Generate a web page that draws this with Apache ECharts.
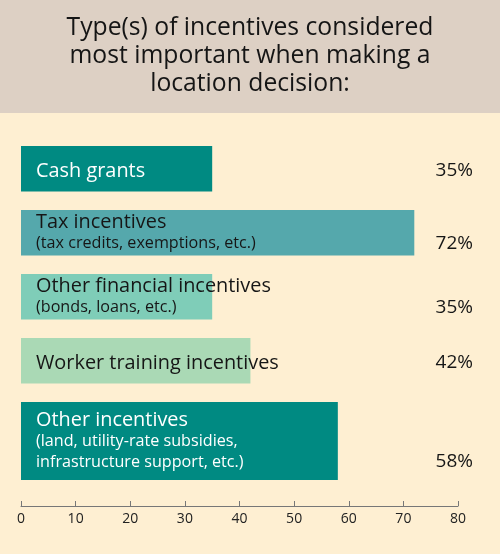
<!DOCTYPE html>
<html>
<head>
<meta charset="utf-8">
<style>
  html, body { margin: 0; padding: 0; background: #FEEFD2; }
  #chart { width: 500px; height: 554px; }
</style>
<script src="https://cdn.jsdelivr.net/npm/echarts@6/dist/echarts.min.js"></script>
</head>
<body>
<div id="chart"></div>
<script>
// ---- Data ----
const titleLines = ['Type(s) of incentives considered', 'most important when making a', 'location decision:'];
const categories = ['Cash grants', 'Tax incentives', 'Other financial incentives', 'Worker training incentives', 'Other incentives'];
const subLabels = [[], ['(tax credits, exemptions, etc.)'], ['(bonds, loans, etc.)'], [], ['(land, utility-rate subsidies,', 'infrastructure support, etc.)']];
const values = [35, 72, 35, 42, 58];
const xMin = 0, xMax = 80, xStep = 10;

// ---- Styles ----
const barColors = ['#008A82', '#55A8AC', '#7FCDB8', '#AAD9B5', '#008A82'];
const nameColors = ['#FFFFFF', '#161616', '#161616', '#161616', '#FFFFFF'];
const FONT = '"Open Sans", "Noto Sans", sans-serif';

// ---- Layout of bar rows (y units = px) ----
const GAP = 18.5;
const rows = [];
let cursor = 0;
categories.forEach((c, i) => {
  const n = 1 + subLabels[i].length;
  const h = n > 2 ? 78 : 45.5;
  rows.push([values[i], cursor, cursor + h, i]);
  cursor += h + GAP;
});
const yMax = cursor - GAP;

const chart = echarts.init(document.getElementById('chart'));

const option = {
  backgroundColor: '#FEEFD2',
  animation: false,
  graphic: [
    { type: 'rect', left: 0, top: 0, z: -10, shape: { width: 500, height: 113 }, style: { fill: '#DDD0C4' } },
    ...titleLines.map((t, i) => ({
      type: 'text', x: 250, y: 27.5 + i * 28, scaleX: 0.95, z: 10,
      style: { text: t, font: '26px ' + FONT, fill: '#151515', textAlign: 'center', textVerticalAlign: 'middle' }
    }))
  ],
  grid: { left: 21, right: 42, top: 146, height: yMax },
  xAxis: {
    type: 'value', min: xMin, max: xMax, interval: xStep, offset: 26, position: 'bottom',
    axisLine: { show: true, onZero: false, lineStyle: { color: '#777', width: 1 } },
    axisTick: { show: true, inside: true, length: 5, lineStyle: { color: '#777' } },
    axisLabel: { color: '#222', fontSize: 14, fontFamily: FONT, margin: 6 },
    splitLine: { show: false }
  },
  yAxis: { type: 'value', min: 0, max: yMax, inverse: true, show: false },
  series: [{
    type: 'custom',
    clip: false,
    encode: { x: 0, y: [1, 2] },
    data: rows,
    renderItem: function (params, api) {
      const v = api.value(0), y0 = api.value(1), y1 = api.value(2), idx = api.value(3);
      const p0 = api.coord([0, y0]);
      const p1 = api.coord([v, y1]);
      const cs = params.coordSys;
      const lines = [{ t: categories[idx], s: 20.5 }].concat(subLabels[idx].map(t => ({ t: t, s: 17 })));
      const n = lines.length;
      const mid = (p0[1] + p1[1]) / 2 + (n === 1 ? 2 : 0);
      const step = 21;
      const first = mid - (n - 1) * step / 2;
      const children = [{
        type: 'rect',
        shape: { x: p0[0], y: p0[1], width: p1[0] - p0[0], height: p1[1] - p0[1] },
        style: { fill: barColors[idx] }
      }];
      lines.forEach((ln, k) => {
        children.push({
          type: 'text', x: 36, y: first + k * step,
          scaleX: ln.s === 17 ? 0.95 : 0.97,
          style: {
            text: ln.t, font: ln.s + 'px ' + FONT,
            fill: nameColors[idx], textAlign: 'left', textVerticalAlign: 'middle'
          }
        });
      });
      children.push({
        type: 'text', x: cs.x + cs.width + 15, y: first + (n - 1) * step,
        style: { text: values[idx] + '%', font: '19px ' + FONT, fill: '#161616', textAlign: 'right', textVerticalAlign: 'middle' }
      });
      return { type: 'group', children: children };
    }
  }]
};
chart.setOption(option);
</script>
</body>
</html>
